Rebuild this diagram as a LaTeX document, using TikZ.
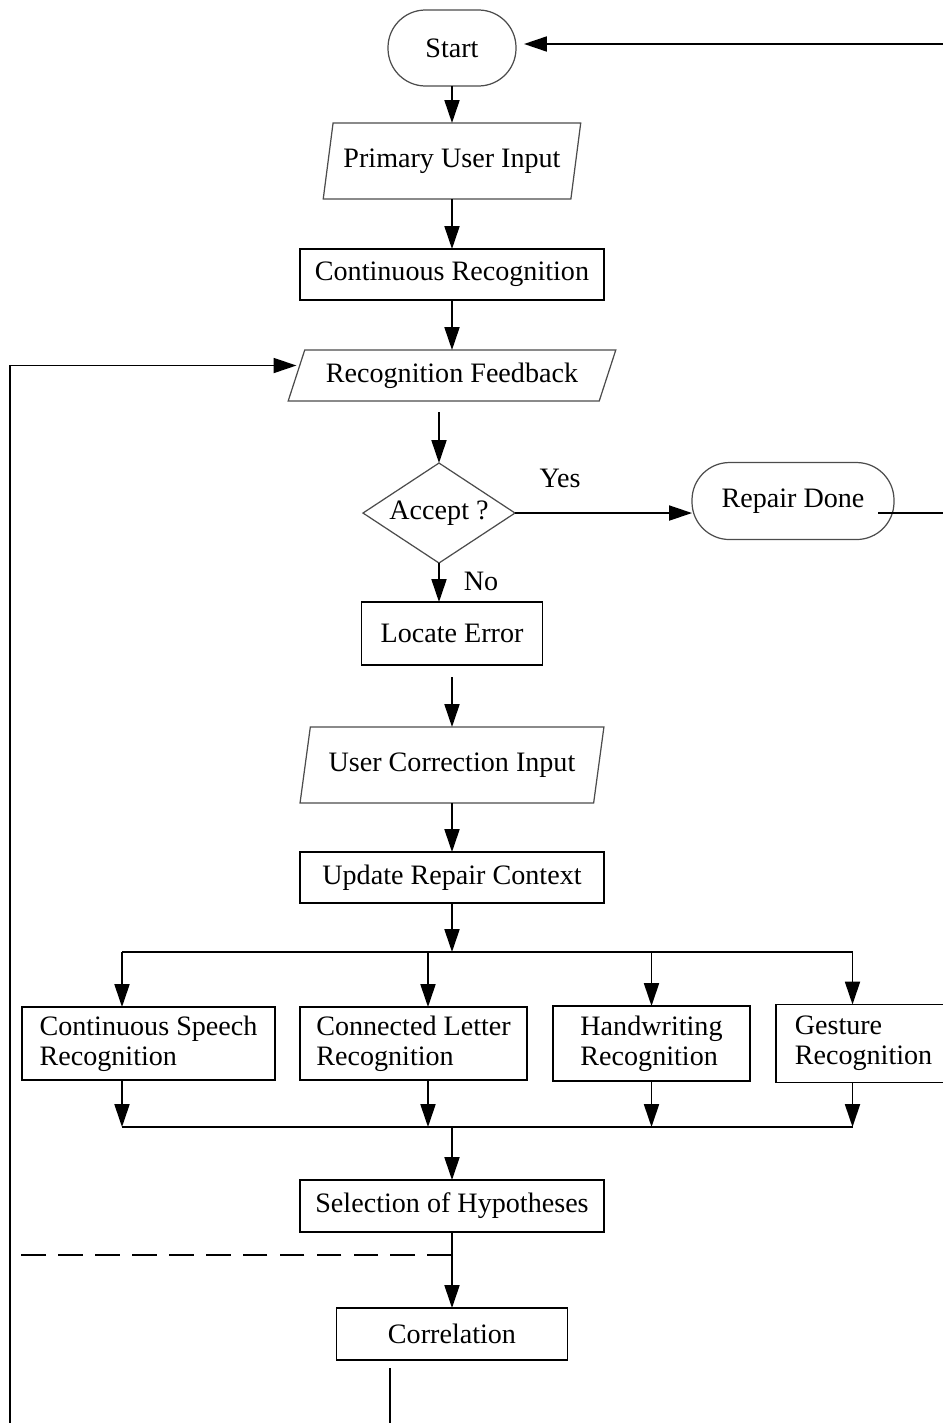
\documentclass[tikz,border=0pt]{standalone}
\usepackage{fontspec}
\setmainfont{Liberation Serif}
\usetikzlibrary{shapes,arrows.meta,positioning,calc}

\begin{document}
\begin{tikzpicture}[
    node distance=1cm,
    font=\fontsize{16}{17}\selectfont,
    terminal/.style={rectangle, rounded corners=0.75cm, draw=black!70, line width=0.7pt, minimum width=2.56cm, minimum height=1.52cm, inner sep=0pt, outer sep=0pt},
    io/.style={trapezium, trapezium left angle=70, trapezium right angle=110, trapezium stretches=true, draw=black!70, line width=0.7pt, minimum width=5.16cm, minimum height=1.52cm, inner sep=0pt, outer sep=0pt},
    decision/.style={diamond, draw=black!70, line width=0.7pt, aspect=1.52, minimum width=3.04cm, minimum height=2cm, inner sep=0pt, outer sep=0pt},
    process/.style={rectangle, draw=black, line width=1pt, minimum width=6.08cm, minimum height=1.02cm, inner sep=0pt, outer sep=0pt, align=center},
    recog/.style={process, align=left, minimum height=1.46cm},
    arrow/.style={-{Triangle[length=13pt,width=8.5pt]}, line width=1.1pt}
]
    \useasboundingbox (0,0) rectangle (18.84,-28.46);

    \node[terminal] (start) at (9.04,-0.96) {Start};
    \node[io, below=0.74cm of start] (primary) {Primary User Input};
    \node[process, below=of primary] (contrec) {Continuous Recognition};
    \node[io, below=of contrec, trapezium left angle=61, trapezium right angle=119, minimum width=6.56cm, minimum height=1.02cm] (feedback) {Recognition Feedback};
    \node[decision, below=1.24cm of feedback, xshift=-0.26cm] (accept) {Accept ?};
    \node[terminal, right=3.54cm of accept, yshift=0.24cm, minimum width=4.04cm, minimum height=1.54cm] (done) {Repair Done};
    \node (yes) at ([xshift=0.9cm,yshift=0.7cm]accept.east) {Yes};
    \node (no) at ([xshift=0.84cm,yshift=-0.36cm]accept.south) {No};
    \node[process, below=0.78cm of accept, xshift=0.26cm, minimum width=3.62cm, minimum height=1.26cm] (locate) {Locate Error};
    \node[io, below=1.24cm of locate, minimum width=6.08cm] (usercorr) {User Correction Input};
    \node[process, below=0.98cm of usercorr] (context) {Update Repair Context};

    % recognizers
    \node[recog, below=2.08cm of context, xshift=-0.77cm, minimum width=4.54cm] (letter) {Connected Letter\\Recognition};
    \node[recog, left=0.5cm of letter, minimum width=5.06cm] (speech) {Continuous Speech\\Recognition};
    \node[recog, right=0.52cm of letter, minimum width=3.94cm, minimum height=1.5cm] (hand) {Handwriting\\Recognition};
    \node[recog, right=0.52cm of hand, minimum width=3.5cm, minimum height=1.56cm] (gesture) {Gesture\\Recognition};

    \node[process, below=2cm of letter, xshift=0.77cm, minimum height=1.04cm] (select) {Selection of Hypotheses};
    \node[process, below=1.52cm of select, minimum width=4.62cm, minimum height=1.04cm] (corr) {Correlation};

    \coordinate (split) at ([yshift=-0.98cm]context.south);
    \coordinate (merge) at ([yshift=-0.94cm]select.north |- letter.south);
    \coordinate (loop) at (0.2,-28.8);
    \coordinate (tap) at ([yshift=-0.46cm]select.south);
    \coordinate (corrout) at ([xshift=-1.24cm,yshift=-0.16cm]corr.south);
    \coordinate (doneout) at ([xshift=-0.32cm,yshift=-0.24cm]done.east);

    \draw[arrow] (start) -- (primary);
    \draw[arrow] (primary) -- (contrec);
    \draw[arrow] (contrec) -- (feedback);
    \draw[arrow] (accept.north |- feedback.south) ++(0,-0.22) -- (accept.north);
    \draw[arrow] (accept.east) -- (accept.east -| done.west);
    \draw[arrow] (accept.south) -- (accept.south |- locate.north);
    \draw[arrow] (locate.south) ++(0,-0.24) -- (usercorr);
    \draw[arrow] (usercorr) -- (context);
    \draw[arrow] (context) -- (split);

    \foreach \n/\dx in {speech/-0.53, letter/0.29, hand/0, gesture/-0.22} {
        \draw[arrow] ([xshift=\dx cm]\n.north |- split) -- ([xshift=\dx cm]\n.north);
        \draw[arrow] ([xshift=\dx cm]\n.south) -- ([xshift=\dx cm]\n.south |- merge);
    }
    \draw[line width=1.1pt] ([xshift=-0.53cm]speech.north |- split) -- ([xshift=-0.22cm]gesture.north |- split);
    \draw[line width=1.1pt] ([xshift=-0.53cm]speech.south |- merge) -- ([xshift=-0.22cm]gesture.south |- merge);

    \draw[arrow] (merge) -- (select);
    \draw[arrow] (select) -- (corr);
    \draw[line width=1.1pt, dash pattern=on 14pt off 7pt] (tap) -- (tap -| loop);
    \draw[line width=1.1pt] (corrout) -- (corrout |- loop);

    % loops back
    \draw[arrow] (loop) |- ([yshift=0.2cm]feedback.west);
    \draw[arrow] (doneout) -- ++(1.6,0) |- ([xshift=0.16cm,yshift=0.08cm]start.east);
\end{tikzpicture}
\end{document}
